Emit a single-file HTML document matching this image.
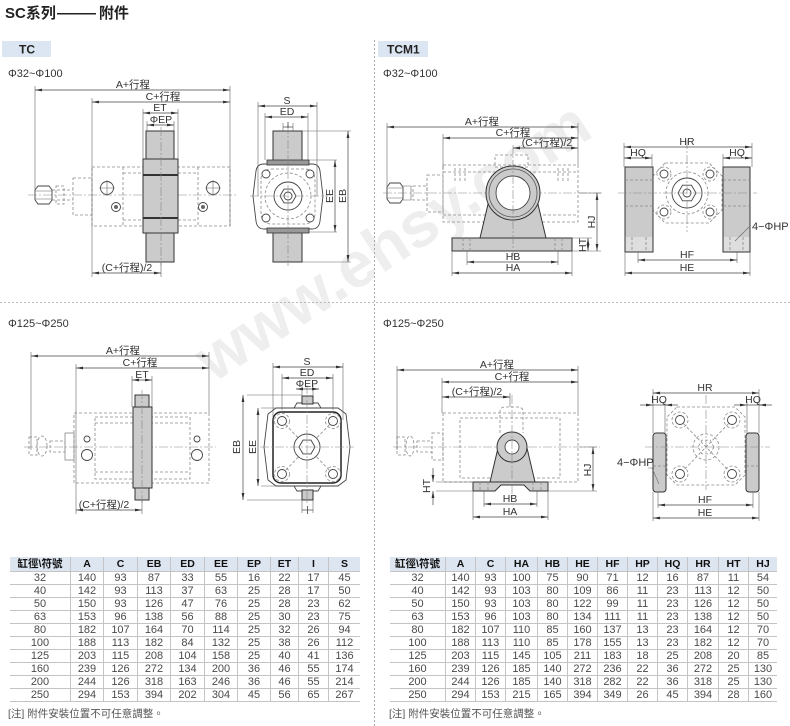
<!DOCTYPE html>
<html><head><meta charset="utf-8">
<style>
body{margin:0;width:790px;height:726px;background:#fff;position:relative;overflow:hidden;font-family:"Liberation Sans","Noto Sans CJK TC",sans-serif;}
svg{position:absolute;left:0;top:0}
.t{font-size:10.5px;fill:#333;text-anchor:middle;font-family:"Liberation Sans","Noto Sans CJK TC",sans-serif}
.ts{font-size:11px;fill:#333;font-family:"Liberation Sans","Noto Sans CJK TC",sans-serif}
.d{stroke:#444;stroke-width:.7;fill:none;marker-start:url(#ar);marker-end:url(#ar)}
.d1{stroke:#444;stroke-width:.7;fill:none;marker-end:url(#ar)}
.e{stroke:#666;stroke-width:.6;fill:none}
.h{stroke:#8a8a8a;stroke-width:.8;fill:none;stroke-dasharray:3 2}
.c{stroke:#888;stroke-width:.6;fill:none;stroke-dasharray:9 2 2 2}
.p{fill:#cbcbcb;stroke:#333;stroke-width:1}
.o{fill:#fff;stroke:#444;stroke-width:.9}
.tb{position:absolute;font-size:11px;color:#4a4a4a}
.r{display:flex;height:13px;box-sizing:border-box;border-bottom:1px solid #c4c4c4;line-height:12px}
.r span{display:block;text-align:center;box-sizing:border-box;border-left:1px solid #c4c4c4;height:12px}
.r span:first-child{border-left:none}
.r.hd{height:15px;background:#dce5f0;font-weight:bold;color:#111;font-size:10.5px;line-height:14px}
.r.hd span{height:14px}
#L .r span:nth-child(1){width:60px}#L .r span:nth-child(2){width:33px}#L .r span:nth-child(3){width:34px}#L .r span:nth-child(4){width:33px}#L .r span:nth-child(5){width:34px}#L .r span:nth-child(6){width:33px}#L .r span:nth-child(7){width:33px}#L .r span:nth-child(8){width:28px}#L .r span:nth-child(9){width:30px}#L .r span:nth-child(10){width:32px}
#R .r span{width:30px}#R .r span:nth-child(1){width:55px}#R .r span:nth-child(4){width:32px}#R .r span:nth-child(10){width:31px}#R .r span:nth-child(12){width:29px}
.note{position:absolute;font-size:10.5px;color:#555;top:706px}
.title{position:absolute;left:5px;top:2px;font-size:15px;font-weight:bold;color:#222;font-family:"Liberation Sans","Noto Sans CJK SC",sans-serif;white-space:nowrap}
.dash{display:inline-block;transform:scaleX(1.3);transform-origin:0 50%;margin-left:1px;margin-right:12px}
</style></head><body>
<svg width="790" height="726" viewBox="0 0 790 726">
<defs><marker id="ar" viewBox="0 0 10 4" refX="10" refY="2" markerWidth="7" markerHeight="2.8" orient="auto-start-reverse" markerUnits="userSpaceOnUse"><path d="M0,0L10,2L0,4z" fill="#333"/></marker></defs>

<text x="395" y="262" transform="rotate(-33 395 245)" font-size="64" font-weight="bold" fill="#eeeeee" text-anchor="middle" font-family="Liberation Sans, sans-serif">www.ehsy.com</text>

<!-- dividers -->
<line x1="374.5" y1="40" x2="374.5" y2="726" stroke="#aaa" stroke-width="1" stroke-dasharray="2 2"/>
<line x1="0" y1="302.5" x2="790" y2="302.5" stroke="#bbb" stroke-width="1" stroke-dasharray="2 2"/>

<!-- tabs -->
<rect x="2" y="41" width="49" height="16" fill="#dce6f2"/>
<text x="19" y="53.5" font-size="12" font-weight="bold" fill="#222" font-family="Liberation Sans, sans-serif">TC</text>
<rect x="378" y="41" width="50" height="16" fill="#dce6f2"/>
<text x="387" y="53.5" font-size="12" font-weight="bold" fill="#222" font-family="Liberation Sans, sans-serif">TCM1</text>

<text class="ts" x="8" y="77">Φ32~Φ100</text>
<text class="ts" x="383" y="77">Φ32~Φ100</text>
<text class="ts" x="8" y="327">Φ125~Φ250</text>
<text class="ts" x="383" y="327">Φ125~Φ250</text>

<!-- ===== TC top front ===== -->
<rect class="h" x="92" y="167" width="138" height="59"/>
<rect class="h" x="73" y="178" width="19" height="37"/>
<path class="h" d="M123,167V226M198,167V226M123,173H143M178,173H198M123,220H143M178,220H198M52,190H73M52,200H73"/>
<path class="o" d="M38,186H49L52,190V200L49,204H38L35,200V190Z" stroke-width=".8"/>
<path class="e" d="M35,191H52M35,199H52"/>
<path class="h" d="M56,186h8v18h-8z"/>
<circle class="o" cx="107" cy="188" r="6.5"/><path class="e" d="M99,188h16M107,180v16"/>
<circle class="o" cx="213" cy="188" r="6.5"/><path class="e" d="M205,188h16M213,180v16"/>
<circle class="o" cx="116" cy="207" r="4.5"/><circle cx="116" cy="207" r="2" fill="#666"/>
<circle class="o" cx="203" cy="207" r="4.5"/><circle cx="203" cy="207" r="2" fill="#666"/>
<path class="c" d="M28,195H236"/>
<rect class="p" x="146" y="131" width="28" height="29"/>
<rect class="p" x="146" y="233" width="28" height="29"/>
<rect class="p" x="143" y="159" width="35" height="74"/>
<path d="M143,175H178M143,218H178" stroke="#333" stroke-width="2"/>
<path class="c" d="M161,127V266"/>
<path class="e" d="M35,86V196M92,98V277M230,86V226M143,109V159M178,109V159M147,121V131M174,121V131M161,262V277"/>
<line class="d" x1="35" y1="90" x2="230" y2="90"/><text class="t" x="133" y="88">A+行程</text>
<line class="d" x1="92" y1="102" x2="230" y2="102"/><text class="t" x="163" y="100">C+行程</text>
<line class="d" x1="143" y1="113" x2="178" y2="113"/><text class="t" x="160" y="111">ET</text>
<line class="d" x1="147" y1="125" x2="174" y2="125"/><text class="t" x="161" y="123">ΦEP</text>
<line class="d" x1="92" y1="273" x2="161" y2="273"/><text class="t" x="127" y="271">(C+行程)/2</text>

<!-- ===== TC top side ===== -->
<rect class="p" x="273" y="131" width="29" height="31"/>
<rect class="p" x="273" y="230" width="29" height="32"/>
<path class="o" d="M264,164H312Q319,164 320,171L323,196L320,221Q319,229 312,229H264Q257,229 256,221L253,196L256,171Q257,164 264,164Z" stroke-width="1.1"/>
<rect x="267" y="160" width="42" height="5" fill="#999" stroke="#333" stroke-width=".8"/>
<rect x="267" y="228" width="42" height="5" fill="#999" stroke="#333" stroke-width=".8"/>
<rect class="h" x="261" y="169" width="54" height="55" rx="10"/>
<circle class="h" cx="288" cy="196" r="23"/>
<circle class="o" cx="266" cy="174" r="4"/><circle class="o" cx="310" cy="174" r="4"/>
<circle class="o" cx="266" cy="218" r="4"/><circle class="o" cx="310" cy="218" r="4"/>
<circle class="o" cx="288" cy="196" r="14"/>
<polygon class="o" points="296,196 292,189.1 284,189.1 280,196 284,202.9 292,202.9"/>
<circle class="o" cx="288" cy="196" r="4"/>
<path class="c" d="M288,125V266M250,196H328"/>
<path class="e" d="M258,102V196M317,102V196M265,113V160M308,113V160M283,123V131M293,123V131M309,160H337M309,232H337M302,131H351M302,262H351"/>
<line class="d" x1="258" y1="106" x2="317" y2="106"/><text class="t" x="287" y="104">S</text>
<line class="d" x1="265" y1="117" x2="308" y2="117"/><text class="t" x="287" y="115">ED</text>
<line x1="283" y1="127" x2="293" y2="127" stroke="#444" stroke-width=".7"/><line x1="288" y1="122" x2="288" y2="128" stroke="#444" stroke-width=".8"/>
<line class="d" x1="335" y1="160" x2="335" y2="232"/><text class="t" transform="translate(333,196) rotate(-90)">EE</text>
<line class="d" x1="348" y1="131" x2="348" y2="262"/><text class="t" transform="translate(346,196) rotate(-90)">EB</text>

<!-- ===== TCM1 top front ===== -->
<rect class="h" x="443" y="165" width="135" height="57"/>
<rect class="h" x="427" y="175" width="16" height="37"/>
<rect class="h" x="495" y="155" width="33" height="12"/>
<path class="h" d="M455,168V182M460,168V182M465,168V182M558,168V182M563,168V182M568,168V182M443,172H578M443,215H578"/>
<path class="o" d="M390,183H400L403,187V199L400,203H390L387,199V187Z" stroke-width=".8"/>
<path class="e" d="M387,188H403M387,198H403M403,186h8v14h-8"/>
<path class="h" d="M413,186h14v14h-14z"/>
<path class="c" d="M383,193H602"/>
<path class="p" d="M489,200L480,238L546,238L537,200Z"/>
<circle class="p" cx="513" cy="193" r="27"/>
<circle cx="513" cy="193" r="24" fill="none" stroke="#555" stroke-width=".8"/>
<circle class="o" cx="513" cy="193" r="17"/>
<rect class="p" x="452" y="238" width="120" height="13"/>
<path class="h" d="M463,238V251M470,238V251M555,238V251M562,238V251"/>
<path class="c" d="M513,145V256"/>
<path class="e" d="M387,123V190M443,134V170M578,123V165M579,193H601M572,251H601M572,238H592M467,251V265M558,251V265M452,251V276M572,251V276"/>
<line class="d" x1="387" y1="127" x2="578" y2="127"/><text class="t" x="482" y="125">A+行程</text>
<line class="d" x1="443" y1="138" x2="578" y2="138"/><text class="t" x="513" y="136">C+行程</text>
<line class="d" x1="513" y1="148" x2="578" y2="148"/><text class="t" x="547" y="146">(C+行程)/2</text>
<line class="d" x1="597" y1="193" x2="597" y2="251"/><text class="t" transform="translate(595,222) rotate(-90)">HJ</text>
<line class="d" x1="588" y1="238" x2="588" y2="251"/><text class="t" font-size="9" transform="translate(586,245) rotate(-90)">HT</text>
<line class="d" x1="467" y1="262" x2="558" y2="262"/><text class="t" x="513" y="260">HB</text>
<line class="d" x1="452" y1="273" x2="572" y2="273"/><text class="t" x="513" y="271">HA</text>

<!-- ===== TCM1 top side ===== -->
<path class="h" d="M665,163L709,163L722,176L722,210L709,223L665,223L653,210L653,176Z"/>
<circle class="h" cx="687" cy="193" r="21"/>
<circle class="h" cx="664" cy="174" r="7"/><circle class="h" cx="710" cy="174" r="7"/>
<circle class="h" cx="664" cy="212" r="7"/><circle class="h" cx="710" cy="212" r="7"/>
<circle class="o" cx="664" cy="174" r="4"/><circle class="o" cx="710" cy="174" r="4"/>
<circle class="o" cx="664" cy="212" r="4"/><circle class="o" cx="710" cy="212" r="4"/>
<circle class="o" cx="687" cy="193" r="15"/>
<polygon class="o" points="696,193 691.5,185.2 682.5,185.2 678,193 682.5,200.8 691.5,200.8"/>
<circle class="o" cx="687" cy="193" r="4"/>
<rect class="p" x="625" y="167" width="28" height="85"/>
<rect class="p" x="723" y="167" width="27" height="85"/>
<rect x="625.5" y="237" width="27" height="14.5" fill="#dedede"/>
<rect x="723.5" y="237" width="26" height="14.5" fill="#dedede"/>
<path class="h" d="M632,237V252M646,237V252M730,237V252M743,237V252M625,180H653M625,206H653M723,180H750M723,206H750"/>
<path class="c" d="M618,193H757M687,140V232"/>
<path class="e" d="M624,143V167M752,143V167M652,154V167M723,154V167M638,252V263M737,252V263M625,252V276M750,252V276"/>
<line class="d" x1="624" y1="147" x2="752" y2="147"/><text class="t" x="687" y="145">HR</text>
<line class="d" x1="624" y1="158" x2="652" y2="158"/><text class="t" x="638" y="156">HQ</text>
<line class="d" x1="723" y1="158" x2="752" y2="158"/><text class="t" x="737" y="156">HQ</text>
<line class="d" x1="638" y1="260" x2="737" y2="260"/><text class="t" x="687" y="258">HF</text>
<line class="d" x1="625" y1="273" x2="750" y2="273"/><text class="t" x="687" y="271">HE</text>
<path class="e" d="M735,241L749,227"/>
<text class="ts" x="752" y="230" font-size="10.5">4−ΦHP</text>

<!-- ===== TC bottom front ===== -->
<rect class="h" x="74" y="413" width="135" height="70"/>
<rect class="h" x="95" y="417" width="95" height="62"/>
<path class="h" d="M95,423H190M95,472H190"/>
<rect x="65" y="433" width="9" height="27" fill="none" stroke="#777" stroke-width=".7"/>
<rect class="h" x="29" y="437" width="8" height="18"/>
<ellipse class="h" cx="42" cy="446" rx="5" ry="10"/>
<rect class="h" x="50" y="441" width="15" height="11"/>
<circle class="o" cx="87" cy="439" r="3"/><circle class="o" cx="87" cy="455" r="5.5"/>
<circle class="o" cx="197" cy="439" r="3"/><circle class="o" cx="197" cy="455" r="5.5"/>
<path class="c" d="M24,447H216"/>
<rect class="p" x="135" y="395" width="14" height="12"/>
<rect class="p" x="135" y="488" width="14" height="12"/>
<rect class="p" x="133" y="407" width="19" height="81"/>
<path class="c" d="M142,390V503"/>
<path class="e" d="M31,352V450M76,364V514M209,352V413M132,376V407M152,376V407M142,500V514"/>
<line class="d" x1="31" y1="356" x2="209" y2="356"/><text class="t" x="123" y="354">A+行程</text>
<line class="d" x1="76" y1="368" x2="209" y2="368"/><text class="t" x="140" y="366">C+行程</text>
<line class="d" x1="132" y1="380" x2="152" y2="380"/><text class="t" x="142" y="378">ET</text>
<line class="d" x1="76" y1="510" x2="142" y2="510"/><text class="t" x="104" y="508">(C+行程)/2</text>

<!-- ===== TC bottom side ===== -->
<path class="o" d="M276,408L338,408L346,414L350,447L346,480L338,486L276,486L268,480L264,447L268,414Z"/>
<path class="o" d="M294,408L297,403H318L321,408Z"/>
<path class="o" d="M294,486L297,491H318L321,486Z"/>
<rect x="273" y="412" width="68" height="71" rx="8" fill="#fff" stroke="#222" stroke-width="1.5"/>
<path class="h" d="M282,421L333,474M333,421L282,474"/>
<circle class="h" cx="282" cy="421" r="7.5"/><circle class="h" cx="333" cy="421" r="7.5"/>
<circle class="h" cx="282" cy="474" r="7.5"/><circle class="h" cx="333" cy="474" r="7.5"/>
<circle class="o" cx="282" cy="421" r="4.5"/><circle class="o" cx="333" cy="421" r="4.5"/>
<circle class="o" cx="282" cy="474" r="4.5"/><circle class="o" cx="333" cy="474" r="4.5"/>
<circle class="o" cx="307" cy="447" r="13"/>
<polygon class="o" points="315,447 311,440.1 303,440.1 299,447 303,453.9 311,453.9"/>
<rect class="p" x="302" y="396" width="11" height="8"/>
<rect class="p" x="302" y="490" width="11" height="10"/>
<path class="c" d="M260,447H354M307,385V505"/>
<path class="e" d="M273,363V420M343,363V420M282,374V410M333,374V410M302,385V396M313,385V396M302,500V513M313,500V513M247,395H302M247,500H302M261,408H276M261,486H276"/>
<line class="d" x1="273" y1="367" x2="343" y2="367"/><text class="t" x="307" y="365">S</text>
<line class="d" x1="282" y1="378" x2="333" y2="378"/><text class="t" x="307" y="376">ED</text>
<line class="d" x1="296" y1="389" x2="319" y2="389"/><text class="t" x="307" y="387">ΦEP</text>
<line x1="302" y1="510" x2="313" y2="510" stroke="#444" stroke-width=".7"/><line x1="307.5" y1="506" x2="307.5" y2="514" stroke="#444" stroke-width=".8"/>
<line class="d" x1="243" y1="395" x2="243" y2="500"/><text class="t" transform="translate(240,447) rotate(-90)">EB</text>
<line class="d" x1="258" y1="408" x2="258" y2="486"/><text class="t" transform="translate(256,447) rotate(-90)">EE</text>

<!-- ===== TCM1 bottom front ===== -->
<rect class="h" x="443" y="413" width="135" height="69"/>
<rect class="h" x="460" y="418" width="100" height="60"/>
<path class="h" d="M500,433V412Q500,407 505,407H518Q523,407 523,412V433"/>
<rect class="h" x="432" y="433" width="11" height="27"/>
<rect class="h" x="397" y="437" width="8" height="18"/>
<ellipse class="h" cx="410" cy="446" rx="4" ry="10"/>
<rect class="h" x="417" y="441" width="15" height="11"/>
<path class="c" d="M393,447H600"/>
<path class="p" d="M498,448L490,482L535,482L527,448Z"/>
<circle class="p" cx="512" cy="447" r="15"/>
<circle class="o" cx="512" cy="447" r="7"/>
<path class="p" d="M473,482H548V491H530L524,485H501L495,491H473Z"/>
<path class="h" d="M480,482V491M488,482V491M533,482V491M541,482V491"/>
<path class="c" d="M512,395V500"/>
<path class="e" d="M397,366V450M442,378V413M578,366V413M510,393V407M580,447H597M548,491H597M436,482H473M436,491H473M484,491V507M537,491V507M473,491V520M548,491V520"/>
<line class="d" x1="397" y1="370" x2="578" y2="370"/><text class="t" x="497" y="368">A+行程</text>
<line class="d" x1="442" y1="382" x2="578" y2="382"/><text class="t" x="512" y="380">C+行程</text>
<line class="d" x1="442" y1="397" x2="510" y2="397"/><text class="t" x="477" y="395">(C+行程)/2</text>
<line class="d1" x1="433" y1="468" x2="433" y2="482"/><line class="d1" x1="433" y1="505" x2="433" y2="491"/>
<text class="t" font-size="9.5" transform="translate(430,486) rotate(-90)">HT</text>
<line class="d" x1="593" y1="447" x2="593" y2="491"/><text class="t" transform="translate(591,470) rotate(-90)">HJ</text>
<line class="d" x1="484" y1="504" x2="537" y2="504"/><text class="t" x="510" y="502">HB</text>
<line class="d" x1="473" y1="517" x2="548" y2="517"/><text class="t" x="510" y="515">HA</text>

<!-- ===== TCM1 bottom side ===== -->
<path class="h" d="M677,407H735L745,417V475L735,485H677L667,475V417Z"/>
<path class="h" d="M680,420L732,474M732,420L680,474"/>
<circle class="h" cx="680" cy="420" r="8"/><circle class="h" cx="732" cy="420" r="8"/>
<circle class="h" cx="680" cy="474" r="8"/><circle class="h" cx="732" cy="474" r="8"/>
<circle class="o" cx="680" cy="420" r="4.5"/><circle class="o" cx="732" cy="420" r="4.5"/>
<circle class="o" cx="680" cy="474" r="4.5"/><circle class="o" cx="732" cy="474" r="4.5"/>
<circle class="h" cx="706" cy="447" r="13"/>
<polygon class="h" points="714,447 710,440.1 702,440.1 698,447 702,453.9 710,453.9"/>
<rect class="p" x="653" y="433" width="13" height="59" rx="3"/>
<rect class="p" x="746" y="433" width="13" height="59" rx="3"/>
<path class="h" d="M653,466H666M746,466H759"/>
<path class="c" d="M645,447H770M706,395V490"/>
<path class="e" d="M653,389V433M759,389V433M665,401V433M747,401V433M658,492V508M753,492V508M653,492V521M759,492V521"/>
<line class="d" x1="653" y1="393" x2="759" y2="393"/><text class="t" x="705" y="391">HR</text>
<line class="d1" x1="640" y1="405" x2="653" y2="405"/><line class="d1" x1="678" y1="405" x2="665" y2="405"/>
<line x1="653" y1="405" x2="665" y2="405" stroke="#444" stroke-width=".7"/>
<text class="t" x="659" y="403">HQ</text>
<line class="d1" x1="734" y1="405" x2="747" y2="405"/><line class="d1" x1="772" y1="405" x2="759" y2="405"/>
<line x1="747" y1="405" x2="759" y2="405" stroke="#444" stroke-width=".7"/>
<text class="t" x="753" y="403">HQ</text>
<text class="ts" x="617" y="466" font-size="10">4−ΦHP</text>
<path class="e" d="M648,468H652L659,484"/>
<line class="d" x1="658" y1="505" x2="753" y2="505"/><text class="t" x="705" y="503">HF</text>
<line class="d" x1="653" y1="518" x2="759" y2="518"/><text class="t" x="705" y="516">HE</text>
</svg>

<div class="title">SC系列<span class="dash">——</span>附件</div>

<div class="tb" id="L" style="left:10px;top:557px;width:350px">
<div class="r hd"><span>缸徑\符號</span><span>A</span><span>C</span><span>EB</span><span>ED</span><span>EE</span><span>EP</span><span>ET</span><span>I</span><span>S</span></div>
<div class="r"><span>32</span><span>140</span><span>93</span><span>87</span><span>33</span><span>55</span><span>16</span><span>22</span><span>17</span><span>45</span></div>
<div class="r"><span>40</span><span>142</span><span>93</span><span>113</span><span>37</span><span>63</span><span>25</span><span>28</span><span>17</span><span>50</span></div>
<div class="r"><span>50</span><span>150</span><span>93</span><span>126</span><span>47</span><span>76</span><span>25</span><span>28</span><span>23</span><span>62</span></div>
<div class="r"><span>63</span><span>153</span><span>96</span><span>138</span><span>56</span><span>88</span><span>25</span><span>30</span><span>23</span><span>75</span></div>
<div class="r"><span>80</span><span>182</span><span>107</span><span>164</span><span>70</span><span>114</span><span>25</span><span>32</span><span>26</span><span>94</span></div>
<div class="r"><span>100</span><span>188</span><span>113</span><span>182</span><span>84</span><span>132</span><span>25</span><span>38</span><span>26</span><span>112</span></div>
<div class="r"><span>125</span><span>203</span><span>115</span><span>208</span><span>104</span><span>158</span><span>25</span><span>40</span><span>41</span><span>136</span></div>
<div class="r"><span>160</span><span>239</span><span>126</span><span>272</span><span>134</span><span>200</span><span>36</span><span>46</span><span>55</span><span>174</span></div>
<div class="r"><span>200</span><span>244</span><span>126</span><span>318</span><span>163</span><span>246</span><span>36</span><span>46</span><span>55</span><span>214</span></div>
<div class="r"><span>250</span><span>294</span><span>153</span><span>394</span><span>202</span><span>304</span><span>45</span><span>56</span><span>65</span><span>267</span></div>
</div>
<div class="note" style="left:8px">[注] 附件安裝位置不可任意調整。</div>

<div class="tb" id="R" style="left:390px;top:557px;width:387px">
<div class="r hd"><span>缸徑\符號</span><span>A</span><span>C</span><span>HA</span><span>HB</span><span>HE</span><span>HF</span><span>HP</span><span>HQ</span><span>HR</span><span>HT</span><span>HJ</span></div>
<div class="r"><span>32</span><span>140</span><span>93</span><span>100</span><span>75</span><span>90</span><span>71</span><span>12</span><span>16</span><span>87</span><span>11</span><span>54</span></div>
<div class="r"><span>40</span><span>142</span><span>93</span><span>103</span><span>80</span><span>109</span><span>86</span><span>11</span><span>23</span><span>113</span><span>12</span><span>50</span></div>
<div class="r"><span>50</span><span>150</span><span>93</span><span>103</span><span>80</span><span>122</span><span>99</span><span>11</span><span>23</span><span>126</span><span>12</span><span>50</span></div>
<div class="r"><span>63</span><span>153</span><span>96</span><span>103</span><span>80</span><span>134</span><span>111</span><span>11</span><span>23</span><span>138</span><span>12</span><span>50</span></div>
<div class="r"><span>80</span><span>182</span><span>107</span><span>110</span><span>85</span><span>160</span><span>137</span><span>13</span><span>23</span><span>164</span><span>12</span><span>70</span></div>
<div class="r"><span>100</span><span>188</span><span>113</span><span>110</span><span>85</span><span>178</span><span>155</span><span>13</span><span>23</span><span>182</span><span>12</span><span>70</span></div>
<div class="r"><span>125</span><span>203</span><span>115</span><span>145</span><span>105</span><span>211</span><span>183</span><span>18</span><span>25</span><span>208</span><span>20</span><span>85</span></div>
<div class="r"><span>160</span><span>239</span><span>126</span><span>185</span><span>140</span><span>272</span><span>236</span><span>22</span><span>36</span><span>272</span><span>25</span><span>130</span></div>
<div class="r"><span>200</span><span>244</span><span>126</span><span>185</span><span>140</span><span>318</span><span>282</span><span>22</span><span>36</span><span>318</span><span>25</span><span>130</span></div>
<div class="r"><span>250</span><span>294</span><span>153</span><span>215</span><span>165</span><span>394</span><span>349</span><span>26</span><span>45</span><span>394</span><span>28</span><span>160</span></div>
</div>
<div class="note" style="left:389px">[注] 附件安裝位置不可任意調整。</div>
</body></html>
